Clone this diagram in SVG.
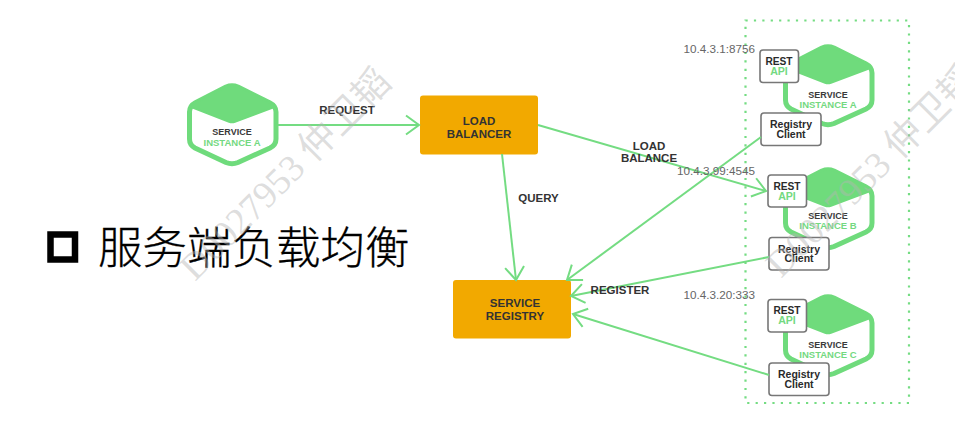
<svg xmlns="http://www.w3.org/2000/svg" width="955" height="427" viewBox="0 0 955 427">
<style>
text{font-family:"Liberation Sans",Arial,sans-serif;text-anchor:middle}
.l{font-weight:700;font-size:11.5px;fill:#333}
.s{font-weight:700;font-size:9px;fill:#3a3a3a}
.g{fill:#74d981}
.n{font-weight:700;font-size:9.5px}
.ip{font-size:11.7px;fill:#666;text-anchor:end}
.r{font-weight:700;font-size:10.2px;fill:#2a2a2a}
.ra{font-size:10.6px}
.c{font-weight:700;font-size:10.5px;fill:#2a2a2a}
.box{fill:#fff;stroke:#777;stroke-width:1.6}
.o{fill:#f2a900}
.e{stroke:#74dc82;stroke-width:2;fill:none;marker-end:url(#a)}
.wm{font-family:"Liberation Serif","Noto Sans CJK SC",serif;font-size:37.500px;fill:#b5b5b5;fill-opacity:.45;text-anchor:start}
</style>
<defs>
<marker id="a" markerUnits="userSpaceOnUse" markerWidth="20" markerHeight="24" refX="16" refY="12" orient="auto">
<path d="M3 2.500L16 12L3 21.500" fill="none" stroke="#74dc82" stroke-width="2"/>
</marker>
<g id="hex">
<path d="M226 87Q232 84.500 238 87L270 103Q276 106 276 112V139Q276 145 270 148L238 162.500Q232 165 226 162.500L195 148Q189.500 145 189.500 139V112Q189.500 106 195 103Z" fill="#fff" stroke="#6fdb7c" stroke-width="5"/>
<path d="M226 87Q232 84.500 238 87L270 103Q274 105 275 107L235 122Q232 123 229 122L190.500 107Q191.500 105 195 103Z" fill="#6fdb7c" stroke="#6fdb7c" stroke-width="1.500" stroke-linejoin="round"/>
</g>
</defs>
<g id="title">
<rect x="50.500" y="234.500" width="24.500" height="25" fill="none" stroke="#000" stroke-width="6.500"/>
<text x="98" y="264" style="font-family:'Noto Sans CJK SC','Noto Sans CJK TC',sans-serif;font-size:44.500px;font-weight:300;fill:#000;stroke:#000;stroke-width:.3;text-anchor:start">服务端负载均衡</text>
</g>
<rect id="cluster" x="745.500" y="20.500" width="163.500" height="382.500" fill="none" stroke="#74dc82" stroke-width="2.200" stroke-dasharray="2.200 6.200"/>
<g id="service-client">
<use href="#hex"/>
<text class="s" x="232" y="135">SERVICE</text>
<text class="g n" x="232" y="145.500">INSTANCE A</text>
</g>
<g id="load-balancer">
<rect class="o" x="420" y="95.500" width="118" height="59" rx="3"/>
<text class="l"><tspan x="479" y="125">LOAD</tspan><tspan x="479" y="138">BALANCER</tspan></text>
</g>
<g id="service-registry">
<rect class="o" x="453" y="280" width="118" height="58.500" rx="3"/>
<text class="l"><tspan x="515" y="307">SERVICE</tspan><tspan x="515" y="320">REGISTRY</tspan></text>
</g>
<g id="instance-a">
<use href="#hex" x="596" y="-39"/>
<text class="s" x="828" y="98">SERVICE</text>
<text class="g n" x="828" y="107.500">INSTANCE A</text>
<rect class="box" x="760" y="50" width="38.500" height="32.500" rx="3"/>
<text class="r"><tspan x="779" y="65">REST</tspan><tspan class="g ra" x="779" y="75">API</tspan></text>
<rect class="box" x="761" y="113" width="60" height="32.500" rx="3"/>
<text class="c"><tspan x="791" y="128">Registry</tspan><tspan x="791" y="137.800">Client</tspan></text>
</g>
<g id="instance-b">
<use href="#hex" x="596" y="84"/>
<text class="s" x="828" y="219">SERVICE</text>
<text class="g n" x="828" y="229">INSTANCE B</text>
<rect class="box" x="768" y="175" width="38.500" height="32" rx="3"/>
<text class="r"><tspan x="787" y="189.500">REST</tspan><tspan class="g ra" x="787" y="199.500">API</tspan></text>
<rect class="box" x="769" y="237.500" width="60" height="32.500" rx="3"/>
<text class="c"><tspan x="799" y="252.500">Registry</tspan><tspan x="799" y="262.300">Client</tspan></text>
</g>
<g id="instance-c">
<use href="#hex" x="596" y="211"/>
<text class="s" x="828" y="348">SERVICE</text>
<text class="g n" x="828" y="358">INSTANCE C</text>
<rect class="box" x="768" y="299.500" width="38.500" height="32.500" rx="3"/>
<text class="r"><tspan x="787" y="314">REST</tspan><tspan class="g ra" x="787" y="324">API</tspan></text>
<rect class="box" x="769" y="363" width="60" height="32.500" rx="3"/>
<text class="c"><tspan x="799" y="378">Registry</tspan><tspan x="799" y="387.800">Client</tspan></text>
</g>
<g id="connectors">
<path class="e" d="M278 125H419"/>
<path class="e" d="M538 125L766 191"/>
<path class="e" d="M502 154L516 280"/>
<path class="e" d="M761 137L567 280"/>
<path class="e" d="M769 257L571 296"/>
<path class="e" d="M769 375L573 314"/>
</g>
<g id="labels">
<text class="l" x="347" y="114">REQUEST</text>
<text class="l" x="538.500" y="202">QUERY</text>
<text class="l"><tspan x="649" y="149.500">LOAD</tspan><tspan x="649" y="162">BALANCE</tspan></text>
<text class="l" x="620" y="294">REGISTER</text>
<text class="ip" x="755" y="53">10.4.3.1:8756</text>
<text class="ip" x="755" y="175">10.4.3.99:4545</text>
<text class="ip" x="755" y="299">10.4.3.20:333</text>
</g>
<g id="watermark">
<text class="wm" transform="translate(195 282) rotate(-45)">D0027953 仲卫韬</text>
<text class="wm" transform="translate(781 279) rotate(-45)">D0027953 仲卫韬</text>
</g>
</svg>
